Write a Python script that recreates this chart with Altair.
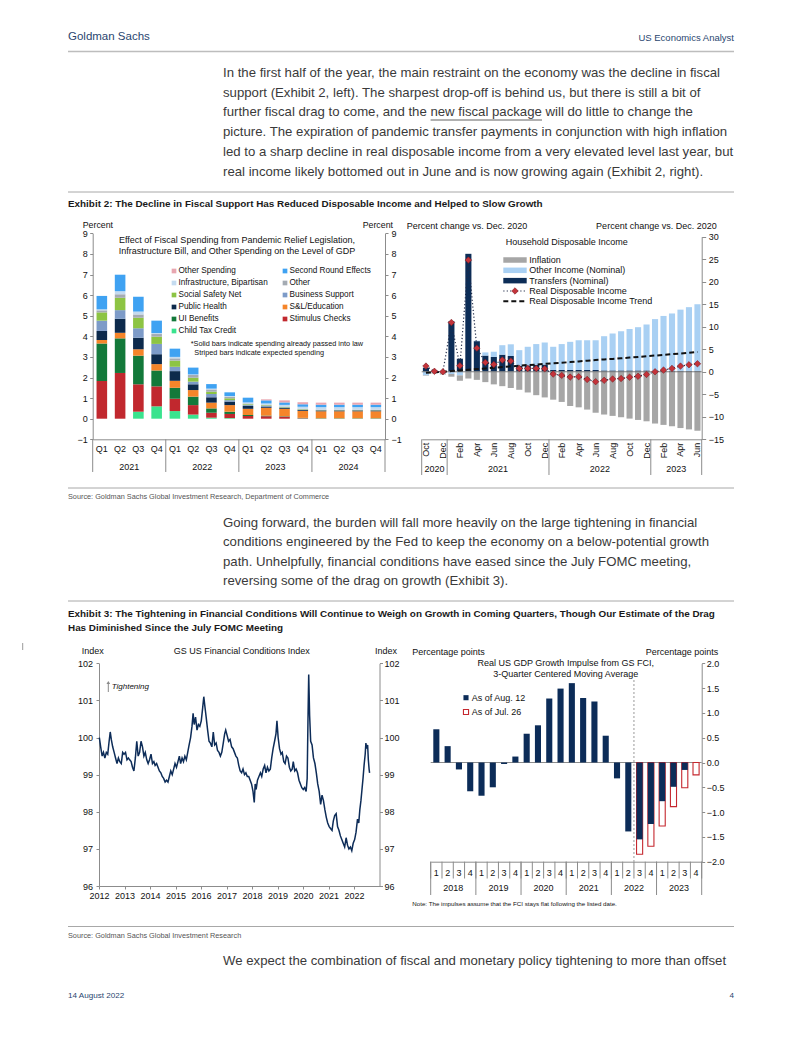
import json
import altair as alt
import pandas as pd

FONT = "Liberation Sans"
NAVY = "#2a4670"
TXT = "#3a3a3a"
W, H = 786, 1021
M = 8


def X(v):
    return v - M


def Y(v):
    return v - M


ONE = pd.DataFrame({"k": [0]})
L = []

# ---------------------------------------------------------------- page text
HEADER_LEFT = "Goldman Sachs"
HEADER_RIGHT = "US Economics Analyst"
PARA1 = [
    "In the first half of the year, the main restraint on the economy was the decline in fiscal",
    "support (Exhibit 2, left).  The sharpest drop-off is behind us, but there is still a bit of",
    "further fiscal drag to come, and the new fiscal package will do little to change the",
    "picture.  The expiration of pandemic transfer payments in conjunction with high inflation",
    "led to a sharp decline in real disposable income from a very elevated level last year, but",
    "real income likely bottomed out in June and is now growing again (Exhibit 2, right).",
]
PARA2 = [
    "Going forward, the burden will fall more heavily on the large tightening in financial",
    "conditions engineered by the Fed to keep the economy on a below-potential growth",
    "path.  Unhelpfully, financial conditions have eased since the July FOMC meeting,",
    "reversing some of the drag on growth (Exhibit 3).",
]
PARA3 = ["We expect the combination of fiscal and monetary policy tightening to more than offset"]
EX2_TITLE = ("Exhibit 2: The Decline in Fiscal Support Has Reduced Disposable Income and "
             "Helped to Slow Growth")
EX3_TITLE = [
    "Exhibit 3: The Tightening in Financial Conditions Will Continue to Weigh on Growth in "
    "Coming Quarters, Though Our Estimate of the Drag",
    "Has Diminished Since the July FOMC Meeting",
]
SOURCE2 = "Source: Goldman Sachs Global Investment Research, Department of Commerce"
SOURCE3 = "Source: Goldman Sachs Global Investment Research"
FOOT_LEFT = "14 August 2022"
FOOT_RIGHT = "4"

# ---------------------------------------------------------------- Exhibit 2 left data
QUARTERS = ["2021Q1", "2021Q2", "2021Q3", "2021Q4", "2022Q1", "2022Q2", "2022Q3", "2022Q4",
            "2023Q1", "2023Q2", "2023Q3", "2023Q4", "2024Q1", "2024Q2", "2024Q3", "2024Q4"]
CHILD_TAX = [0, 0, 0.34, 0.60, 0.37, 0.20, 0.05, 0.03, 0, 0, 0, 0, 0, 0, 0, 0]
STIMULUS = [1.83, 2.22, 1.33, 0.97, 0.60, 0.46, 0.24, 0.20, 0.13, 0.12, 0.10, 0.02, 0, 0, 0, 0]
UI_BENEFITS = [1.82, 1.68, 1.39, 0.77, 0.53, 0.41, 0.21, 0.11, 0.05, 0.03, 0.02, 0.02, 0.02, 0.02, 0.02, 0.02]
SL_EDUCATION = [0.17, 0.27, 0.31, 0.31, 0.34, 0.32, 0.28, 0.32, 0.30, 0.38, 0.36, 0.34, 0.34, 0.34, 0.34, 0.34]
PUBLIC_HEALTH = [0.44, 0.68, 0.56, 0.48, 0.47, 0.28, 0.26, 0.17, 0.14, 0.06, 0.05, 0.04, 0.04, 0.04, 0.04, 0.04]
BUSINESS = [0.50, 0.42, 0.46, 0.50, 0.21, 0.13, 0.16, 0.07, 0.04, 0.03, 0.02, 0.02, 0.01, 0.01, 0.01, 0.01]
SAFETY_NET = [0.40, 0.60, 0.51, 0.35, 0.30, 0.19, 0.11, 0.09, 0.04, 0.03, 0.02, 0.02, 0.01, 0.01, 0.01, 0.01]
OTHER = [0.10, 0.17, 0.16, 0.13, 0.11, 0.13, 0.11, 0.08, 0.04, 0.03, 0.02, 0.02, 0.02, 0.02, 0.02, 0.02]
INFRA = [0.05, 0.15, 0.14, 0.05, 0.07, 0.03, 0.04, 0.03, 0.05, 0.06, 0.08, 0.10, 0.12, 0.12, 0.12, 0.12]
SECOND_ROUND = [0.65, 0.80, 0.72, 0.60, 0.40, 0.33, 0.22, 0.18, 0.23, 0.15, 0.12, 0.12, 0.12, 0.12, 0.12, 0.12]
OTHER_SPENDING = [0, 0, 0, 0, 0, 0, 0, 0, 0, 0.05, 0.10, 0.10, 0.10, 0.10, 0.10, 0.10]

STACK = [("Child Tax Credit", CHILD_TAX), ("Stimulus Checks", STIMULUS), ("UI Benefits", UI_BENEFITS),
         ("S&L/Education", SL_EDUCATION), ("Public Health", PUBLIC_HEALTH), ("Business Support", BUSINESS),
         ("Social Safety Net", SAFETY_NET), ("Other", OTHER), ("Infrastructure, Bipartisan", INFRA),
         ("Second Round Effects", SECOND_ROUND), ("Other Spending", OTHER_SPENDING)]
LEGEND_L = ["Other Spending", "Second Round Effects", "Infrastructure, Bipartisan", "Other",
            "Social Safety Net", "Business Support", "Public Health", "S&L/Education",
            "UI Benefits", "Stimulus Checks", "Child Tax Credit"]
COLORS_L = ["#e8a6b0", "#3fa2f2", "#c4dbf0", "#a4abb3", "#8dc443", "#7d9bc8", "#0d2a4c",
            "#f5852a", "#13793a", "#c1282e", "#3ae38e"]

# ---------------------------------------------------------------- Exhibit 2 right data
MONTHS = ["2020-10", "2020-11", "2020-12",
          "2021-01", "2021-02", "2021-03", "2021-04", "2021-05", "2021-06",
          "2021-07", "2021-08", "2021-09", "2021-10", "2021-11", "2021-12",
          "2022-01", "2022-02", "2022-03", "2022-04", "2022-05", "2022-06",
          "2022-07", "2022-08", "2022-09", "2022-10", "2022-11", "2022-12",
          "2023-01", "2023-02", "2023-03", "2023-04", "2023-05", "2023-06"]
MONTH_TICKS = ["Oct", "", "Dec", "", "Feb", "", "Apr", "", "Jun", "", "Aug", "", "Oct", "", "Dec",
               "", "Feb", "", "Apr", "", "Jun", "", "Aug", "", "Oct", "", "Dec",
               "", "Feb", "", "Apr", "", "Jun"]
TRANSFERS = [0.9, 0.3, 0.2, 11.2, 2.9, 26.2, 6.8, 3.6, 3.3, 3.8, 3.5, 1.3, 1.4, 1.5, 1.6,
             0.4, 0.4, 0.4, 0.4, 0.4, 0.4, 0.3, 0.3, 0.3, 0.3, 0.3, 0.3, 0.2, 0.2, 0.2, 0.2, 0.2, 0.2]
OTHER_INCOME = [-0.8, -0.2, -0.3, -0.5, -0.8, 0.0, 0.1, 0.7, 1.15, 2.1, 2.6, 3.5, 4.15, 4.65, 4.9,
                5.15, 5.75, 6.25, 6.6, 6.6, 6.6, 7.6, 8.2, 8.7, 9.2, 9.6, 10.2,
                11.5, 12.2, 12.75, 13.6, 14.15, 14.8]
INFLATION = [-0.1, -0.2, -0.3, -0.6, -1.2, -1.5, -1.8, -2.3, -2.8, -3.2, -3.6, -4.0, -4.6, -5.2, -5.7,
             -6.2, -6.7, -7.6, -7.9, -8.4, -9.1, -9.5, -9.8, -10.1, -10.4, -10.7, -11.0,
             -11.5, -11.8, -12.1, -12.5, -12.8, -13.1]
REAL_DPI = [1.26, 0.1, 0.0, 10.95, 1.33, 24.8, 5.25, 2.07, 1.63, 2.6, 2.37, 0.74, 0.74, 0.74, 0.67,
            -0.52, -0.8, -1.18, -1.1, -1.7, -2.2, -1.9, -1.6, -1.5, -1.2, -1.0, -0.6,
            0.0, 0.37, 0.74, 1.26, 1.55, 1.78]
DPI_TREND = [-0.2, -0.1, 0.0, 0.15, 0.3, 0.45, 0.6, 0.75, 0.9, 1.05, 1.2, 1.35, 1.5, 1.6, 1.75,
             1.9, 2.0, 2.15, 2.3, 2.45, 2.6, 2.75, 2.85, 3.0, 3.15, 3.3, 3.45,
             3.6, 3.75, 3.9, 4.05, 4.2, 4.4]

# ---------------------------------------------------------------- Exhibit 3 left data (GS FCI)
FCI_DATES = [
    "2012-01-06", "2012-01-25", "2012-02-15", "2012-03-05", "2012-03-25", "2012-04-15", "2012-05-05",
    "2012-05-25", "2012-06-10", "2012-06-25", "2012-07-15", "2012-08-05", "2012-08-25", "2012-09-15",
    "2012-10-05", "2012-10-25", "2012-11-15", "2012-12-05", "2012-12-25",
    "2013-01-15", "2013-02-05", "2013-02-25", "2013-03-15", "2013-04-05", "2013-04-25", "2013-05-15",
    "2013-06-05", "2013-06-25", "2013-07-15", "2013-08-05", "2013-08-25", "2013-09-15", "2013-10-05",
    "2013-10-25", "2013-11-15", "2013-12-05", "2013-12-25",
    "2014-01-15", "2014-02-05", "2014-02-25", "2014-03-15", "2014-04-05", "2014-04-25", "2014-05-15",
    "2014-06-05", "2014-06-25", "2014-07-15", "2014-08-05", "2014-08-25", "2014-09-15", "2014-10-05",
    "2014-10-25", "2014-11-15", "2014-12-05", "2014-12-25",
    "2015-01-15", "2015-02-05", "2015-02-25", "2015-03-15", "2015-04-05", "2015-04-25", "2015-05-15",
    "2015-06-05", "2015-06-25", "2015-07-15", "2015-08-05", "2015-08-25", "2015-09-10", "2015-09-25",
    "2015-10-15", "2015-11-05", "2015-11-25", "2015-12-15",
    "2016-01-05", "2016-01-25", "2016-02-10", "2016-02-25", "2016-03-15", "2016-04-05", "2016-04-25",
    "2016-05-15", "2016-06-05", "2016-06-25", "2016-07-15", "2016-08-05", "2016-08-25", "2016-09-15",
    "2016-10-05", "2016-10-25", "2016-11-15", "2016-12-05", "2016-12-20",
    "2017-01-10", "2017-01-30", "2017-02-20", "2017-03-15", "2017-04-05", "2017-04-25", "2017-05-15",
    "2017-06-05", "2017-06-25", "2017-07-15", "2017-08-05", "2017-08-25", "2017-09-15", "2017-10-05",
    "2017-10-25", "2017-11-15", "2017-12-05", "2017-12-25",
    "2018-01-15", "2018-02-02", "2018-02-15", "2018-03-01", "2018-03-20", "2018-04-10", "2018-05-01",
    "2018-05-20", "2018-06-10", "2018-07-01", "2018-07-20", "2018-08-10", "2018-08-30", "2018-09-20",
    "2018-10-10", "2018-10-30", "2018-11-20", "2018-12-10", "2018-12-24",
    "2019-01-10", "2019-01-30", "2019-02-20", "2019-03-10", "2019-04-01", "2019-04-20", "2019-05-10",
    "2019-05-30", "2019-06-20", "2019-07-10", "2019-07-30", "2019-08-15", "2019-09-05", "2019-09-25",
    "2019-10-15", "2019-11-05", "2019-11-25", "2019-12-15",
    "2020-01-05", "2020-01-25", "2020-02-15", "2020-03-01", "2020-03-12", "2020-03-23", "2020-04-05",
    "2020-04-20", "2020-05-10", "2020-05-30", "2020-06-20", "2020-07-10", "2020-07-30", "2020-08-20",
    "2020-09-10", "2020-09-30", "2020-10-20", "2020-11-10", "2020-11-30", "2020-12-20",
    "2021-01-10", "2021-01-30", "2021-02-20", "2021-03-10", "2021-03-30", "2021-04-20", "2021-05-10",
    "2021-05-30", "2021-06-20", "2021-07-10", "2021-07-30", "2021-08-20", "2021-09-10", "2021-09-30",
    "2021-10-20", "2021-11-10", "2021-11-30", "2021-12-20",
    "2022-01-10", "2022-01-30", "2022-02-20", "2022-03-10", "2022-03-25", "2022-04-10", "2022-04-25",
    "2022-05-10", "2022-05-25", "2022-06-10", "2022-06-20", "2022-07-01", "2022-07-15", "2022-07-25",
    "2022-08-05", "2022-08-12",
]
FCI_VALUES = [
    100.0, 99.75, 99.5, 99.6, 99.45, 99.6, 99.55, 99.9, 100.15, 99.95, 99.75, 99.6, 99.45, 99.3,
    99.45, 99.35, 99.3, 99.6, 99.55,
    99.6, 99.4, 99.45, 99.4, 99.35, 99.2, 99.1, 99.45, 99.9, 99.5, 99.6, 99.9, 99.75, 99.5,
    99.6, 99.4, 99.3, 99.4,
    99.55, 99.3, 99.35, 99.25, 99.3, 99.2, 99.1, 99.05, 98.95, 98.9, 98.8, 98.85, 98.8, 98.95,
    99.1, 99.0, 99.15, 99.3,
    99.2, 99.35, 99.5, 99.3, 99.45, 99.35, 99.5, 99.4, 99.6, 99.8, 100.0, 100.3, 100.65, 100.35,
    100.55, 100.2, 100.35, 100.3,
    100.45, 100.8, 101.1, 100.85, 100.55, 100.2, 99.9, 99.85, 99.75, 100.15, 99.8, 99.85, 99.65, 99.6,
    99.5, 99.6, 99.85, 100.1, 100.2,
    100.05, 99.9, 99.95, 99.75, 99.7, 99.6, 99.5, 99.45, 99.25, 99.1, 99.05, 99.15, 99.0, 99.05,
    98.95, 98.95, 98.85, 98.75,
    98.55, 98.25, 98.75, 98.6, 98.85, 98.95, 99.05, 98.95, 99.15, 99.25, 99.05, 99.2, 99.1, 99.15,
    99.45, 99.7, 99.9, 100.1, 100.45,
    100.0, 99.7, 99.55, 99.6, 99.35, 99.3, 99.5, 99.45, 99.2, 99.1, 99.15, 99.35, 99.1, 99.15,
    99.05, 98.85, 98.75, 98.65,
    98.6, 98.65, 98.55, 98.9, 100.4, 101.7, 100.6, 99.9, 99.8, 99.45, 99.3, 99.05, 98.75, 98.55,
    98.2, 98.45, 98.3, 98.05, 97.85, 97.7,
    97.6, 97.55, 97.5, 97.75, 97.9, 97.95, 97.6, 97.5, 97.35, 97.25, 97.15, 97.05, 97.3, 97.1,
    97.0, 97.05, 96.95, 97.15,
    97.25, 97.45, 97.8, 97.7, 98.05, 98.3, 98.6, 98.9, 99.25, 99.55, 99.85, 99.7, 99.8, 99.4,
    99.15, 99.05,
]
FCI_YEAR_TICKS = [2012, 2013, 2014, 2015, 2016, 2017, 2018, 2019, 2020, 2021, 2022]

# ---------------------------------------------------------------- Exhibit 3 right data
IMP_QUARTERS = ["2018Q1", "2018Q2", "2018Q3", "2018Q4", "2019Q1", "2019Q2", "2019Q3", "2019Q4",
                "2020Q1", "2020Q2", "2020Q3", "2020Q4", "2021Q1", "2021Q2", "2021Q3", "2021Q4",
                "2022Q1", "2022Q2", "2022Q3", "2022Q4", "2023Q1", "2023Q2", "2023Q3", "2023Q4"]
AS_OF_AUG12 = [0.67, 0.33, -0.14, -0.58, -0.67, -0.50, -0.03, 0.12, 0.58, 0.75, 1.29, 1.49,
               1.60, 1.30, 1.23, 0.54, -0.32, -1.39, -1.55, -1.24, -0.78, -0.49, -0.15, None]
AS_OF_JUL26 = [None] * 18 + [-1.85, -1.69, -1.28, -0.89, -0.51, -0.25]

# ---------------------------------------------------------------- helpers
AXC = dict(title=None, grid=False, labelFont=FONT, labelFontSize=9, labelColor="#111111",
           domainColor="#8c8c8c", tickColor="#8c8c8c", domainWidth=1, tickWidth=1,
           labelFlush=False, labelOverlap=False)


def y_axis(orient, at, values, fmt, tick=3, pad=3):
    off = -X(at) if orient == "left" else X(at) - W
    return alt.Axis(orient=orient, offset=off, values=values, format=fmt,
                    tickSize=tick, labelPadding=pad, **AXC)


def x_axis(at, **kw):
    return alt.Axis(orient="bottom", offset=Y(at) - H, **AXC, **kw)


def right_axis(scale, at, values, fmt, tick=3, pad=3):
    df = pd.DataFrame({"v": [values[0], values[-1]]})
    return alt.Chart(df).mark_point(opacity=0).encode(
        y=alt.Y("v:Q", scale=scale, axis=y_axis("right", at, values, fmt, tick, pad)))


def txt(x, y, s, size=9.0, align="left", color="#111111", weight="normal",
        italic=False, baseline="middle"):
    kw = dict(align=align, baseline=baseline, fontSize=size, font=FONT, fontWeight=weight, color=color)
    if italic:
        kw["fontStyle"] = "italic"
    return alt.Chart(ONE).mark_text(**kw).encode(
        x=alt.value(X(x)), y=alt.value(Y(y)), text=alt.value(s))


def hline(x1, x2, y, color="#b4b4b4", width=1.0):
    return alt.Chart(ONE).mark_rule(color=color, strokeWidth=width).encode(
        x=alt.value(X(x1)), x2=alt.value(X(x2)), y=alt.value(Y(y)))


def period_layer(keys, x0, x1, y_axis_px, y_sep_end, y_label, minor_end=None, marker=None):
    groups = []
    for i, k in enumerate(keys):
        yr = k[:4]
        if groups and groups[-1][0] == yr:
            groups[-1][2] = i + 1
        else:
            groups.append([yr, i, i + 1])
    sc = alt.Scale(domain=[0, len(keys)], range=[X(x0), X(x1)], nice=False, zero=False)
    lab = pd.DataFrame({"year": [g[0] for g in groups], "mid": [(g[1] + g[2]) / 2 for g in groups]})
    sep = pd.DataFrame({"pos": [g[1] for g in groups] + [len(keys)]})
    parts = []
    if minor_end is not None:
        minor = pd.DataFrame({"pos": list(range(len(keys) + 1))})
        parts.append(alt.Chart(minor).mark_rule(color="#8c8c8c", strokeWidth=1).encode(
            x=alt.X("pos:Q", scale=sc, axis=None), y=alt.value(Y(y_axis_px)), y2=alt.value(Y(minor_end))))
    parts.append(alt.Chart(sep).mark_rule(color="#8c8c8c", strokeWidth=1).encode(
        x=alt.X("pos:Q", scale=sc, axis=None), y=alt.value(Y(y_axis_px)), y2=alt.value(Y(y_sep_end))))
    parts.append(alt.Chart(lab).mark_text(fontSize=9, font=FONT, color="#111111").encode(
        x=alt.X("mid:Q", scale=sc, axis=None), y=alt.value(Y(y_label)), text="year:N"))
    if marker is not None:
        key, ytop = marker
        mk = pd.DataFrame({"pos": [keys.index(key)]})
        parts.append(alt.Chart(mk).mark_rule(color="#9a9a9a", strokeWidth=1, strokeDash=[2, 2]).encode(
            x=alt.X("pos:Q", scale=sc, axis=None), y=alt.value(Y(ytop)), y2=alt.value(Y(y_axis_px))))
    return alt.layer(*parts)


# ---------------------------------------------------------------- page furniture
L.append(txt(68, 37, HEADER_LEFT, 11.5, color=NAVY))
L.append(txt(734, 38, HEADER_RIGHT, 9.5, align="right", color=NAVY))
L.append(hline(68, 734, 51.5, "#bdbdbd", 1.5))
for i, s in enumerate(PARA1):
    L.append(txt(223, 72.7 + 19.8 * i, s, 13.2, color=TXT))
L.append(hline(430.6, 542.0, 120.0, TXT, 0.8))
L.append(hline(68, 734, 192, "#a8a8a8", 1.0))
L.append(txt(68, 204, EX2_TITLE, 9.9, color="#1a1a1a", weight="bold"))
L.append(hline(68, 734, 488, "#a8a8a8", 1.0))
L.append(txt(68, 497, SOURCE2, 7.3, color="#555555"))
for i, s in enumerate(PARA2):
    L.append(txt(223, 522.7 + 19.5 * i, s, 13.2, color=TXT))
L.append(hline(68, 734, 601, "#a8a8a8", 1.0))
for i, s in enumerate(EX3_TITLE):
    L.append(txt(68, 614.3 + 14 * i, s, 9.9, color="#1a1a1a", weight="bold"))
L.append(alt.Chart(ONE).mark_rule(color="#9a9a9a", strokeWidth=1).encode(
    x=alt.value(X(22.7)), y=alt.value(Y(643)), y2=alt.value(Y(650))))
L.append(hline(68, 734, 926.5, "#a8a8a8", 1.0))
L.append(txt(68, 935.7, SOURCE3, 7.3, color="#555555"))
for i, s in enumerate(PARA3):
    L.append(txt(223, 960.7 + 19.5 * i, s, 13.2, color=TXT))
L.append(txt(68, 996, FOOT_LEFT, 8.1, color=NAVY))
L.append(txt(734, 996, FOOT_RIGHT, 8.1, align="right", color=NAVY))

# ---------------------------------------------------------------- Exhibit 2 left: fiscal impulse
rows = []
for order, (name, vals) in enumerate(STACK):
    for q, v in zip(QUARTERS, vals):
        rows.append({"quarter": q, "series": name, "value": v, "order": order})
fiscal_df = pd.DataFrame(rows)

xs_l = alt.Scale(domain=QUARTERS, range=[X(92.7), X(385.0)], paddingInner=0.42, paddingOuter=0.21)
ys_l = alt.Scale(domain=[-1, 9], range=[Y(439.3), Y(233.3)], nice=False, zero=False)
bars_l = alt.Chart(fiscal_df).mark_bar().encode(
    x=alt.X("quarter:N", scale=xs_l,
            axis=x_axis(439.3, labelExpr="slice(datum.value, 4)", ticks=False, labelPadding=5, labelAngle=0)),
    y=alt.Y("value:Q", stack="zero", scale=ys_l,
            axis=y_axis("left", 92.7, list(range(-1, 10)), "d", 3, 2.5)),
    color=alt.Color("series:N", scale=alt.Scale(domain=LEGEND_L, range=COLORS_L), legend=None),
    order=alt.Order("order:Q", sort="ascending"),
)
L.append(bars_l)
L.append(right_axis(ys_l, 385.0, list(range(-1, 10)), "d", 3, 3))
L.append(period_layer(QUARTERS, 92.7, 385.0, 439.3, 472, 467))

L.append(txt(82.7, 225.2, "Percent", 8.8))
L.append(txt(393, 225.2, "Percent", 8.8, align="right"))
L.append(txt(237, 240.3, "Effect of Fiscal Spending from Pandemic Relief Legislation,", 9, align="center"))
L.append(txt(237, 250.7, "Infrastructure Bill, and Other Spending on the Level of GDP", 9, align="center"))

leg_df = pd.DataFrame({"name": LEGEND_L,
                       "col": [i % 2 for i in range(len(LEGEND_L))],
                       "row": [i // 2 for i in range(len(LEGEND_L))]})
lx = alt.Scale(domain=[0, 1], range=[X(174), X(285)], nice=False, zero=False)
ly = alt.Scale(domain=[0, 5], range=[Y(271), Y(331)], nice=False, zero=False)
leg_sq = alt.Chart(leg_df).mark_square(size=22, opacity=1).encode(
    x=alt.X("col:Q", scale=lx, axis=None), y=alt.Y("row:Q", scale=ly, axis=None),
    color=alt.Color("name:N", scale=alt.Scale(domain=LEGEND_L, range=COLORS_L), legend=None))
leg_tx = alt.Chart(leg_df).mark_text(align="left", dx=4.5, fontSize=8.2, font=FONT, color="#111111").encode(
    x=alt.X("col:Q", scale=lx, axis=None), y=alt.Y("row:Q", scale=ly, axis=None), text="name:N")
L.append(alt.layer(leg_sq, leg_tx))
L.append(txt(190.7, 344.3, "*Solid bars indicate spending already passed into law", 7.3))
L.append(txt(194.3, 352.7, "Striped bars indicate expected spending", 7.3))

# ---------------------------------------------------------------- Exhibit 2 right: disposable income
rows = []
for order, (name, vals) in enumerate([("Transfers (Nominal)", TRANSFERS),
                                      ("Other Income (Nominal)", OTHER_INCOME),
                                      ("Inflation", INFLATION)]):
    for m, v in zip(MONTHS, vals):
        rows.append({"month": m, "series": name, "value": v, "order": order})
inc_df = pd.DataFrame(rows)
line_df = pd.DataFrame({"month": MONTHS, "rdi": REAL_DPI, "trend": DPI_TREND})

INC_NAMES = ["Inflation", "Other Income (Nominal)", "Transfers (Nominal)"]
INC_COLORS = ["#a6a6a6", "#a9d0f3", "#0c2d57"]
xs_r = alt.Scale(domain=MONTHS, range=[X(421.7), X(701.7)], paddingInner=0.28, paddingOuter=0.14)
ys_r = alt.Scale(domain=[-15, 30], range=[Y(439.3), Y(236.7)], nice=False, zero=False)
month_expr = f"{json.dumps(MONTH_TICKS)}[indexof({json.dumps(MONTHS)}, datum.value)]"
bars_r = alt.Chart(inc_df).mark_bar().encode(
    x=alt.X("month:N", scale=xs_r,
            axis=x_axis(439.3, labelExpr=month_expr, labelAngle=270, ticks=False, labelPadding=3)),
    y=alt.Y("value:Q", stack="zero", scale=ys_r,
            axis=y_axis("left", 421.7, list(range(-15, 31, 5)), "d", 4, 3.5)),
    color=alt.Color("series:N", scale=alt.Scale(domain=INC_NAMES, range=INC_COLORS), legend=None),
    order=alt.Order("order:Q", sort="ascending"),
)
zero_r = alt.Chart(pd.DataFrame({"z": [0]})).mark_rule(color="#7f7f7f", strokeWidth=1).encode(
    y=alt.Y("z:Q", scale=ys_r, axis=None), x=alt.value(X(421.7)), x2=alt.value(X(701.7)))
trend_r = alt.Chart(line_df).mark_line(color="#111111", strokeWidth=2, strokeDash=[5, 3]).encode(
    x=alt.X("month:N", scale=xs_r), y=alt.Y("trend:Q", scale=ys_r))
rdi_line = alt.Chart(line_df).mark_line(color="#1f2a48", strokeWidth=1.2, strokeDash=[1.2, 2.2]).encode(
    x=alt.X("month:N", scale=xs_r), y=alt.Y("rdi:Q", scale=ys_r))
rdi_pts = alt.Chart(line_df).mark_point(shape="diamond", filled=True, fill="#c4333a", stroke="#7d1f24",
                                        strokeWidth=0.6, size=42, opacity=1).encode(
    x=alt.X("month:N", scale=xs_r), y=alt.Y("rdi:Q", scale=ys_r))
L.append(alt.layer(bars_r, zero_r, trend_r, rdi_line, rdi_pts))
L.append(right_axis(ys_r, 701.7, list(range(-15, 31, 5)), "d", 4, 2.5))
L.append(period_layer(MONTHS, 421.7, 701.7, 439.3, 475, 469.3))

L.append(txt(406.7, 226, "Percent change vs. Dec. 2020", 9))
L.append(txt(716.7, 226, "Percent change vs. Dec. 2020", 9, align="right"))
L.append(txt(566.7, 242.3, "Household Disposable Income", 9, align="center"))

LEG_R = ["Inflation", "Other Income (Nominal)", "Transfers (Nominal)",
         "Real Disposable Income", "Real Disposable Income Trend"]
legr_df = pd.DataFrame({"name": LEG_R, "row": list(range(len(LEG_R)))})
lyr = alt.Scale(domain=[0, 4], range=[Y(260), Y(301.3)], nice=False, zero=False)
sw = alt.Chart(legr_df.iloc[:3]).mark_rule(strokeWidth=5.5).encode(
    x=alt.value(X(503.3)), x2=alt.value(X(526.7)), y=alt.Y("row:Q", scale=lyr, axis=None),
    color=alt.Color("name:N", scale=alt.Scale(domain=INC_NAMES, range=INC_COLORS), legend=None))
sw_dot = alt.Chart(legr_df.iloc[3:4]).mark_rule(color="#1f2a48", strokeWidth=1.2, strokeDash=[1.2, 2.2]).encode(
    x=alt.value(X(503.3)), x2=alt.value(X(526.7)), y=alt.Y("row:Q", scale=lyr, axis=None))
sw_dia = alt.Chart(legr_df.iloc[3:4]).mark_point(shape="diamond", filled=True, fill="#c4333a", stroke="#7d1f24",
                                                 strokeWidth=0.6, size=42, opacity=1).encode(
    x=alt.value(X(515)), y=alt.Y("row:Q", scale=lyr, axis=None))
sw_dash = alt.Chart(legr_df.iloc[4:5]).mark_rule(color="#111111", strokeWidth=2, strokeDash=[5, 3]).encode(
    x=alt.value(X(503.3)), x2=alt.value(X(526.7)), y=alt.Y("row:Q", scale=lyr, axis=None))
sw_tx = alt.Chart(legr_df).mark_text(align="left", fontSize=9, font=FONT, color="#111111").encode(
    x=alt.value(X(529.3)), y=alt.Y("row:Q", scale=lyr, axis=None), text="name:N")
L.append(alt.layer(sw, sw_dot, sw_dia, sw_dash, sw_tx))

# ---------------------------------------------------------------- Exhibit 3 left: FCI
fci_df = pd.DataFrame({"date": FCI_DATES, "fci": FCI_VALUES})
xs_f = alt.Scale(type="utc",
                 domain=[alt.DateTime(year=2012, month=1, date=1, utc=True),
                         alt.DateTime(year=2023, month=1, date=1, utc=True)],
                 range=[X(99), X(379.5)])
ys_f = alt.Scale(domain=[96, 102], range=[Y(886), Y(663.3)], nice=False, zero=False)
fci_line = alt.Chart(fci_df).mark_line(color="#0d2c58", strokeWidth=1.5).encode(
    x=alt.X("date:T", scale=xs_f,
            axis=x_axis(886, values=[alt.DateTime(year=y, month=1, date=1, utc=True) for y in FCI_YEAR_TICKS],
                        format="%Y", tickSize=3, labelPadding=2.5, labelAngle=0)),
    y=alt.Y("fci:Q", scale=ys_f, axis=y_axis("left", 99, list(range(96, 103)), "d", 3, 3.5)),
)
L.append(fci_line)
L.append(right_axis(ys_f, 379.5, list(range(96, 103)), "d", 3, 1.5))
L.append(txt(81.7, 651, "Index", 9))
L.append(txt(241.7, 651, "GS US Financial Conditions Index", 9, align="center"))
L.append(txt(397, 651, "Index", 9, align="right"))
L.append(alt.Chart(ONE).mark_rule(color="#8a8a8a", strokeWidth=1).encode(
    x=alt.value(X(108.3)), y=alt.value(Y(683)), y2=alt.value(Y(692))))
L.append(alt.Chart(ONE).mark_point(shape="triangle-up", filled=True, color="#8a8a8a", size=14, opacity=1).encode(
    x=alt.value(X(108.3)), y=alt.value(Y(682.5))))
L.append(txt(111.7, 686.5, "Tightening", 8, italic=True))

# ---------------------------------------------------------------- Exhibit 3 right: GDP impulse
imp_df = pd.DataFrame({"quarter": IMP_QUARTERS, "aug": AS_OF_AUG12, "jul": AS_OF_JUL26})
xs_i = alt.Scale(domain=IMP_QUARTERS, range=[X(430.7), X(701.7)], paddingInner=0.46, paddingOuter=0.23)
ys_i = alt.Scale(domain=[-2, 2], range=[Y(861.7), Y(663.3)], nice=False, zero=False)
IMP_TICKS = [-2.0, -1.5, -1.0, -0.5, 0.0, 0.5, 1.0, 1.5, 2.0]
jul_bars = alt.Chart(imp_df).mark_bar(fill="white", stroke="#c5282f", strokeWidth=1.1).encode(
    x=alt.X("quarter:N", scale=xs_i,
            axis=x_axis(861.7, labelExpr="slice(datum.value, 5)", ticks=False, labelPadding=6.5, labelAngle=0)),
    y=alt.Y("jul:Q", scale=ys_i, axis=y_axis("left", 430.7, IMP_TICKS, ".1f", 3, 2.7)),
)
aug_bars = alt.Chart(imp_df).mark_bar(color="#0c2c58").encode(
    x=alt.X("quarter:N", scale=xs_i), y=alt.Y("aug:Q", scale=ys_i))
zero_i = alt.Chart(pd.DataFrame({"z": [0]})).mark_rule(color="#8c8c8c", strokeWidth=1).encode(
    y=alt.Y("z:Q", scale=ys_i, axis=None), x=alt.value(X(430.7)), x2=alt.value(X(701.7)))
L.append(alt.layer(zero_i, jul_bars, aug_bars))
L.append(right_axis(ys_i, 701.7, IMP_TICKS, ".1f", 3, 1.5))
L.append(period_layer(IMP_QUARTERS, 430.7, 701.7, 861.7, 895, 888.3, minor_end=878.5,
                      marker=("2022Q3", 680)))

L.append(txt(412.3, 651.7, "Percentage points", 9))
L.append(txt(718.3, 651.7, "Percentage points", 9, align="right"))
L.append(txt(565.7, 662.7, "Real US GDP Growth Impulse from GS FCI,", 9, align="center"))
L.append(txt(565.7, 674, "3-Quarter Centered Moving Average", 9, align="center"))
L.append(alt.Chart(ONE).mark_square(size=26, color="#0c2c58", opacity=1).encode(
    x=alt.value(X(466)), y=alt.value(Y(697.7))))
L.append(alt.Chart(ONE).mark_square(size=26, fill="white", stroke="#c5282f", strokeWidth=1.1, opacity=1).encode(
    x=alt.value(X(466)), y=alt.value(Y(712))))
L.append(txt(471.7, 697.7, "As of Aug. 12", 9))
L.append(txt(471.7, 712, "As of Jul. 26", 9))
L.append(txt(412.3, 904.3, "Note: The impulses assume that the FCI stays flat following the listed date.", 6.2))

# ---------------------------------------------------------------- assemble
chart = (
    alt.layer(*L)
    .resolve_scale(x="independent", y="independent", color="independent")
    .resolve_axis(x="independent", y="independent")
    .properties(width=W, height=H, padding=0, autosize=alt.AutoSizeParams(type="none"),
                background="white")
    .configure(font=FONT)
    .configure_view(strokeWidth=0)
)
chart.save("out.html", embed_options={"renderer": "svg", "actions": False})
